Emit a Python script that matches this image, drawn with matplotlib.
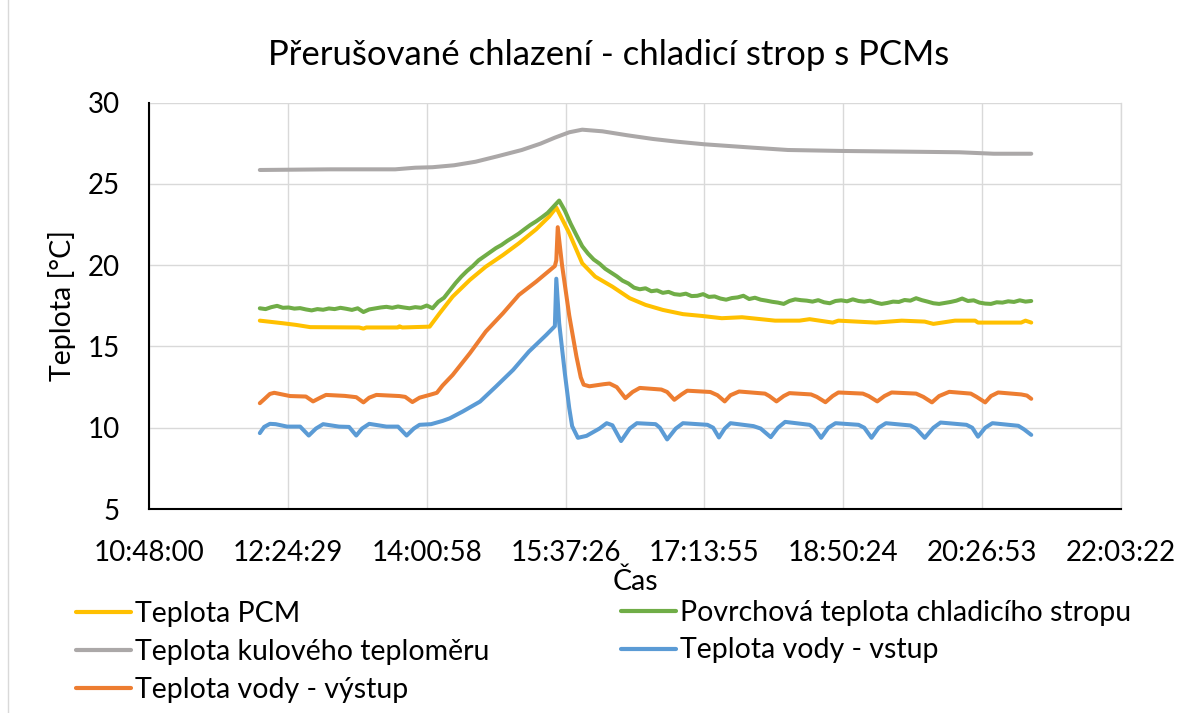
import numpy as np
import matplotlib
matplotlib.use("Agg")
import matplotlib.pyplot as plt
from matplotlib.lines import Line2D

plt.rcParams['font.family'] = ['Lato', 'DejaVu Sans']

# ---- data -------------------------------------------------------------
title = "Přerušované chlazení - chladicí strop s PCMs"
x_label = "Čas"
y_label = "Teplota [°C]"

series_names = [
    "Teplota PCM",
    "Povrchová teplota chladicího stropu",
    "Teplota kulového teploměru",
    "Teplota vody - vstup",
    "Teplota vody - výstup",
]
series_colors = ["#FFC000", "#70AD47", "#ABA8A8", "#5B9BD5", "#ED7D31"]

x_tick_labels = ["10:48:00", "12:24:29", "14:00:58", "15:37:26",
                 "17:13:55", "18:50:24", "20:26:53", "22:03:22"]
x_tick_start = 0.45      # 10:48:00 as a fraction of a day
x_tick_step = 0.067      # major unit in days
y_ticks = [5, 10, 15, 20, 25, 30]

pcm_times = ["12:05", "12:21", "12:30", "12:40", "13:14", "13:17", "13:19", "13:41", "13:42", "13:44",
             "14:03", "14:10", "14:19", "14:31", "14:42", "14:54", "15:05", "15:17", "15:26", "15:31",
             "15:40", "15:49", "15:58", "16:10", "16:22", "16:33", "16:45", "16:59", "17:12", "17:26",
             "17:40", "18:03", "18:20", "18:27", "18:43", "18:47", "19:13", "19:31", "19:47", "19:53",
             "20:08", "20:22", "20:24", "20:54", "20:57", "21:01"]
pcm_values = [16.59, 16.43, 16.33, 16.19, 16.17, 16.10, 16.17, 16.17, 16.24, 16.17,
              16.22, 17.05, 18.07, 19.10, 19.91, 20.63, 21.35, 22.21, 22.99, 23.55,
              21.97, 20.12, 19.30, 18.68, 17.97, 17.56, 17.25, 16.99, 16.88, 16.74,
              16.80, 16.59, 16.59, 16.68, 16.47, 16.59, 16.47, 16.59, 16.53, 16.39,
              16.59, 16.59, 16.47, 16.47, 16.59, 16.47]

# ceiling surface: logged every 4 minutes from 12:05
surface_start = "12:05"
surface_step_min = 4
surface_values = [17.35, 17.30, 17.42, 17.50, 17.38, 17.40, 17.33, 17.36, 17.28, 17.22,
                  17.30, 17.26, 17.34, 17.30, 17.38, 17.32, 17.25, 17.35, 17.12, 17.28,
                  17.34, 17.40, 17.44, 17.38, 17.46, 17.40, 17.35, 17.42, 17.38, 17.52,
                  17.35, 17.75, 18.00, 18.45, 18.90, 19.30, 19.65, 19.95, 20.30, 20.55,
                  20.80, 21.05, 21.25, 21.50, 21.72, 21.95, 22.22, 22.48, 22.70, 22.95,
                  23.22, 23.60, 23.98, 23.35, 22.55, 21.85, 21.17, 20.72, 20.35, 20.10,
                  19.78, 19.55, 19.32, 19.05, 18.88, 18.62, 18.52, 18.58, 18.40, 18.45,
                  18.30, 18.36, 18.22, 18.18, 18.25, 18.10, 18.12, 18.22, 18.05, 18.08,
                  17.95, 17.88, 17.98, 18.02, 18.12, 17.92, 18.00, 17.88, 17.82, 17.75,
                  17.70, 17.62, 17.80, 17.90, 17.85, 17.82, 17.76, 17.85, 17.72, 17.66,
                  17.80, 17.84, 17.78, 17.90, 17.80, 17.76, 17.82, 17.70, 17.62, 17.68,
                  17.76, 17.74, 17.86, 17.82, 17.97, 17.85, 17.76, 17.66, 17.62, 17.68,
                  17.74, 17.82, 17.95, 17.80, 17.84, 17.70, 17.64, 17.62, 17.72, 17.70,
                  17.78, 17.74, 17.84, 17.76, 17.80]

globe_times = ["12:05", "12:54", "13:39", "13:53", "14:05", "14:20", "14:35", "14:50", "15:07", "15:20",
               "15:30", "15:40", "15:49", "16:03", "16:20", "16:38", "16:55", "17:14", "17:48", "18:12",
               "18:50", "19:32", "20:11", "20:35", "21:01"]
globe_values = [25.86, 25.90, 25.90, 26.00, 26.03, 26.15, 26.37, 26.70, 27.09, 27.48,
                27.85, 28.18, 28.34, 28.24, 28.00, 27.77, 27.60, 27.44, 27.23, 27.09,
                27.03, 26.99, 26.95, 26.86, 26.86]

inlet_times = ["12:05", "12:08", "12:12", "12:16", "12:24", "12:33", "12:39", "12:44", "12:49", "13:00",
               "13:07", "13:12", "13:16", "13:21", "13:33", "13:41", "13:47", "13:52", "13:56", "14:04",
               "14:12", "14:17", "14:26", "14:38", "14:49", "15:01", "15:12", "15:24", "15:30", "15:31",
               "15:33", "15:37", "15:40", "15:42", "15:46", "15:52", "16:01", "16:06", "16:10", "16:16",
               "16:22", "16:27", "16:40", "16:43", "16:48", "16:54", "16:59", "17:16", "17:20", "17:24",
               "17:28", "17:32", "17:48", "17:53", "18:00", "18:05", "18:10", "18:27", "18:30", "18:35",
               "18:40", "18:45", "19:01", "19:05", "19:10", "19:15", "19:20", "19:37", "19:41", "19:47",
               "19:53", "19:58", "20:16", "20:20", "20:24", "20:29", "20:34", "20:52", "20:56", "21:01"]
inlet_values = [9.67, 10.05, 10.24, 10.22, 10.07, 10.07, 9.52, 9.95, 10.22, 10.07,
                10.05, 9.52, 9.95, 10.24, 10.07, 10.07, 9.52, 9.95, 10.18, 10.22,
                10.42, 10.58, 11.00, 11.61, 12.53, 13.56, 14.69, 15.71, 16.25, 19.17,
                16.43, 13.30, 11.20, 10.10, 9.38, 9.50, 9.95, 10.28, 10.15, 9.18,
                9.95, 10.28, 10.22, 10.00, 9.28, 9.95, 10.28, 10.18, 10.00, 9.40,
                9.95, 10.28, 10.10, 9.95, 9.42, 10.00, 10.36, 10.18, 10.00, 9.38,
                10.00, 10.28, 10.18, 10.00, 9.38, 10.00, 10.28, 10.14, 9.95, 9.38,
                10.00, 10.32, 10.18, 10.00, 9.45, 10.00, 10.28, 10.12, 9.90, 9.56]

outlet_times = ["12:05", "12:08", "12:12", "12:15", "12:26", "12:37", "12:42", "12:47", "12:51", "13:04",
                "13:12", "13:17", "13:21", "13:26", "13:42", "13:46", "13:51", "13:56", "14:03", "14:08",
                "14:12", "14:19", "14:31", "14:42", "14:54", "15:05", "15:17", "15:30", "15:31", "15:32",
                "15:35", "15:40", "15:45", "15:48", "15:50", "15:54", "16:04", "16:08", "16:13", "16:19",
                "16:24", "16:29", "16:44", "16:48", "16:53", "16:58", "17:02", "17:18", "17:23", "17:28",
                "17:32", "17:38", "17:56", "17:59", "18:04", "18:09", "18:13", "18:28", "18:32", "18:38",
                "18:43", "18:47", "19:04", "19:08", "19:14", "19:19", "19:24", "19:41", "19:46", "19:52",
                "19:57", "20:04", "20:19", "20:23", "20:29", "20:33", "20:38", "20:54", "20:58", "21:01"]
outlet_values = [11.51, 11.75, 12.08, 12.15, 11.95, 11.92, 11.62, 11.85, 12.02, 11.96,
                 11.88, 11.56, 11.85, 12.02, 11.95, 11.90, 11.58, 11.85, 12.02, 12.15,
                 12.60, 13.25, 14.59, 15.92, 17.05, 18.17, 18.99, 19.95, 20.30, 22.34,
                 20.00, 16.90, 14.38, 13.10, 12.65, 12.55, 12.68, 12.72, 12.50, 11.82,
                 12.20, 12.45, 12.35, 12.20, 11.72, 12.05, 12.28, 12.20, 12.00, 11.62,
                 12.00, 12.23, 12.10, 11.95, 11.62, 11.95, 12.13, 12.05, 11.90, 11.57,
                 11.95, 12.17, 12.10, 11.95, 11.62, 11.95, 12.17, 12.10, 11.90, 11.56,
                 11.95, 12.21, 12.10, 11.90, 11.56, 11.95, 12.17, 12.05, 11.98, 11.78]


def day_fraction(times):
    """Convert 'HH:MM' strings to fractions of a day (Excel-style time)."""
    out = []
    for t in times:
        h, m = t.split(":")
        out.append((int(h) * 60 + int(m)) / 1440.0)
    return np.array(out)


surface_times = day_fraction([surface_start])[0] + \
    np.arange(len(surface_values)) * surface_step_min / 1440.0

series = [
    (day_fraction(pcm_times), pcm_values),
    (surface_times, surface_values),
    (day_fraction(globe_times), globe_values),
    (day_fraction(inlet_times), inlet_values),
    (day_fraction(outlet_times), outlet_values),
]

# ---- figure -----------------------------------------------------------
W, H = 1200, 713
fig = plt.figure(figsize=(W / 100, H / 100), dpi=100)
fig.patch.set_facecolor("white")

ax = fig.add_axes([149 / W, 1 - 509 / H, 972 / W, 406.3 / H])

lines = []
for (xs, ys), name, col in zip(series, series_names, series_colors):
    ln, = ax.plot(xs, ys, color=col, lw=2.9, solid_capstyle="round",
                  solid_joinstyle="round", label=name)
    lines.append(ln)

x_ticks = x_tick_start + x_tick_step * np.arange(len(x_tick_labels))
ax.set_xlim(x_ticks[0], x_ticks[-1])
ax.set_ylim(y_ticks[0], y_ticks[-1])
ax.set_xticks(x_ticks)
ax.set_xticklabels(x_tick_labels)
ax.set_yticks(y_ticks)
ax.set_yticklabels([str(v) for v in y_ticks])

ax.grid(True, color="#d9d9d9", lw=1.0)
ax.set_axisbelow(True)
for side in ("left", "bottom"):
    ax.spines[side].set_color("black")
    ax.spines[side].set_linewidth(1.5)
ax.spines["top"].set_visible(False)
ax.spines["right"].set_color("#d9d9d9")
ax.spines["right"].set_linewidth(1.0)

ax.tick_params(axis="both", length=0, labelsize=20, colors="black")
ax.tick_params(axis="y", pad=21)
ax.tick_params(axis="x", pad=22)

ax.set_xlabel(x_label, fontsize=20.5)
ax.xaxis.set_label_coords(0.5, (509 - 582) / 406.3)
ax.xaxis.label.set_va("center")
ax.set_ylabel(y_label, fontsize=20.5)
ax.yaxis.set_label_coords((62 - 149) / 972, 0.5)
ax.yaxis.label.set_va("center")

fig.text(609 / W, 1 - 55 / H, title, fontsize=25, ha="center", va="center")

# legend laid out row by row in two columns
leg_kw = dict(frameon=False, fontsize=20.5, handlelength=1.93, handletextpad=0.15,
              labelspacing=0.42, borderpad=0, borderaxespad=0, loc="center left")
left_idx = [0, 2, 4]
right_idx = [1, 3]
leg1 = fig.legend([lines[i] for i in left_idx], [series_names[i] for i in left_idx],
                  bbox_to_anchor=(76 / W, 1 - 651.7 / H), **leg_kw)
leg2 = fig.legend([lines[i] for i in right_idx], [series_names[i] for i in right_idx],
                  bbox_to_anchor=(621 / W, 1 - 631.5 / H), **leg_kw)
for lg in (leg1, leg2):
    for h in lg.legend_handles:
        h.set_linewidth(3.0)

# chart-area border
fig.add_artist(Line2D([8 / W, 8 / W], [0, 1], transform=fig.transFigure,
                      color="#d9d9d9", lw=1.0))

fig.savefig("out.png", dpi=100)
